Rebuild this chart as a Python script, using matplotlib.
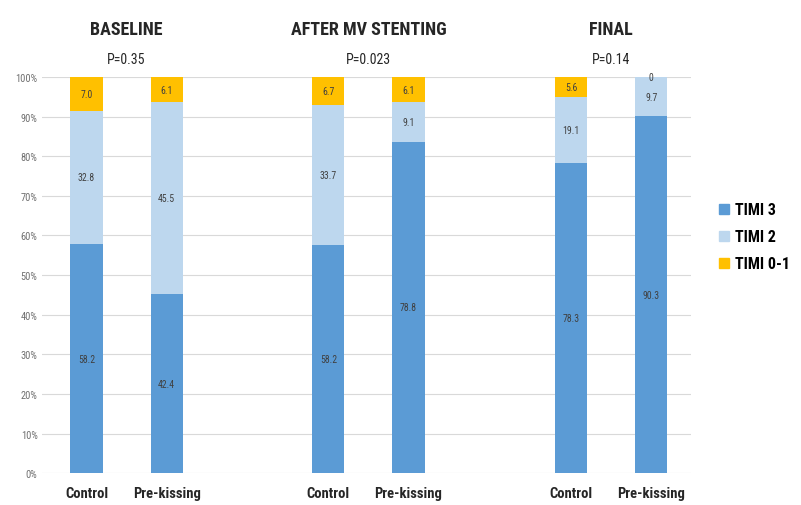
import numpy as np
import matplotlib
matplotlib.use("Agg")
import matplotlib.pyplot as plt
from matplotlib.patches import Patch
from matplotlib import font_manager

# pick a narrow font if one is installed (reference uses Calibri-like text)
names = {f.name for f in font_manager.fontManager.ttflist}
narrow = None
for cand in ['Liberation Sans Narrow', 'Roboto Condensed', 'Open Sans Condensed']:
    if cand in names:
        narrow = cand
        break
stretch = 'normal'
if narrow is None:
    narrow = 'Liberation Sans'
    if any(f.name == 'DejaVu Sans' and f.stretch == 'condensed' for f in font_manager.fontManager.ttflist):
        narrow = 'DejaVu Sans'
        stretch = 'condensed'
plt.rcParams['font.family'] = [narrow, 'DejaVu Sans']
plt.rcParams['font.stretch'] = stretch

groups = ["BASELINE", "AFTER MV STENTING", "FINAL"]
pvalues = ["P=0.35", "P=0.023", "P=0.14"]
arms = ["Control", "Pre-kissing"] * 3
xpos = [0, 1, 3.02, 4.02, 6.05, 7.05]

# segment heights as drawn (100% stacked)
timi3 = [57.8, 45.2, 57.6, 83.7, 78.3, 90.1]
timi2 = [33.7, 48.4, 35.2, 9.9, 16.7, 9.9]
timi01 = [8.5, 6.4, 7.2, 6.4, 5.0, 0.0]

# printed data labels
lab3 = ["58.2", "42.4", "58.2", "78.8", "78.3", "90.3"]
lab2 = ["32.8", "45.5", "33.7", "9.1", "19.1", "9.7"]
lab01 = ["7.0", "6.1", "6.7", "6.1", "5.6", "0"]

c3, c2, c01 = "#5B9BD5", "#BDD7EE", "#FFC000"

fig = plt.figure(figsize=(8.01, 5.06), dpi=100)
ax = fig.add_axes([0.053, 0.063, 0.81, 0.783])

x = np.array(xpos)
b3 = ax.bar(x, timi3, width=0.4, color=c3, zorder=3)
b2 = ax.bar(x, timi2, width=0.4, bottom=timi3, color=c2, zorder=3)
bot01 = np.array(timi3) + np.array(timi2)
b01 = ax.bar(x, timi01, width=0.4, bottom=bot01, color=c01, zorder=3)

for bars, labs in [(b3, lab3), (b2, lab2), (b01, lab01)]:
    for r, t in zip(bars, labs):
        ax.text(r.get_x() + r.get_width() / 2, r.get_y() + r.get_height() / 2, t,
                ha='center', va='center', fontsize=7, color='#404040', zorder=4)

ax.set_xlim(-0.55, 7.55)
ax.set_ylim(0, 100)
ax.set_yticks(np.arange(0, 101, 10))
ax.set_yticklabels(["%d%%" % v for v in range(0, 101, 10)], fontsize=7.5, color='#707070')
ax.set_xticks(xpos)
ax.set_xticklabels(arms, fontsize=10.5, fontweight='bold', color='#262626')
ax.tick_params(axis='both', length=0)
ax.tick_params(axis='x', pad=9)
ax.grid(axis='y', color='#D9D9D9', linewidth=0.8, zorder=0)
for s in ax.spines.values():
    s.set_visible(False)

for i, (g, p) in enumerate(zip(groups, pvalues)):
    cx = (xpos[2 * i] + xpos[2 * i + 1]) / 2
    ax.text(cx, 112, g, ha='center', va='center', fontsize=13, fontweight='bold', color='#262626')
    ax.text(cx, 104.5, p, ha='center', va='center', fontsize=10, color='#262626')

handles = [Patch(color=c3), Patch(color=c2), Patch(color=c01)]
fig.legend(handles, ["TIMI 3", "TIMI 2", "TIMI 0-1"], loc='center left',
           bbox_to_anchor=(0.88, 0.53), frameon=False, handlelength=0.6,
           handleheight=0.6, handletextpad=0.4, labelspacing=0.75,
           prop={'size': 11.5, 'weight': 'bold'})

fig.savefig("out.png", dpi=100)
